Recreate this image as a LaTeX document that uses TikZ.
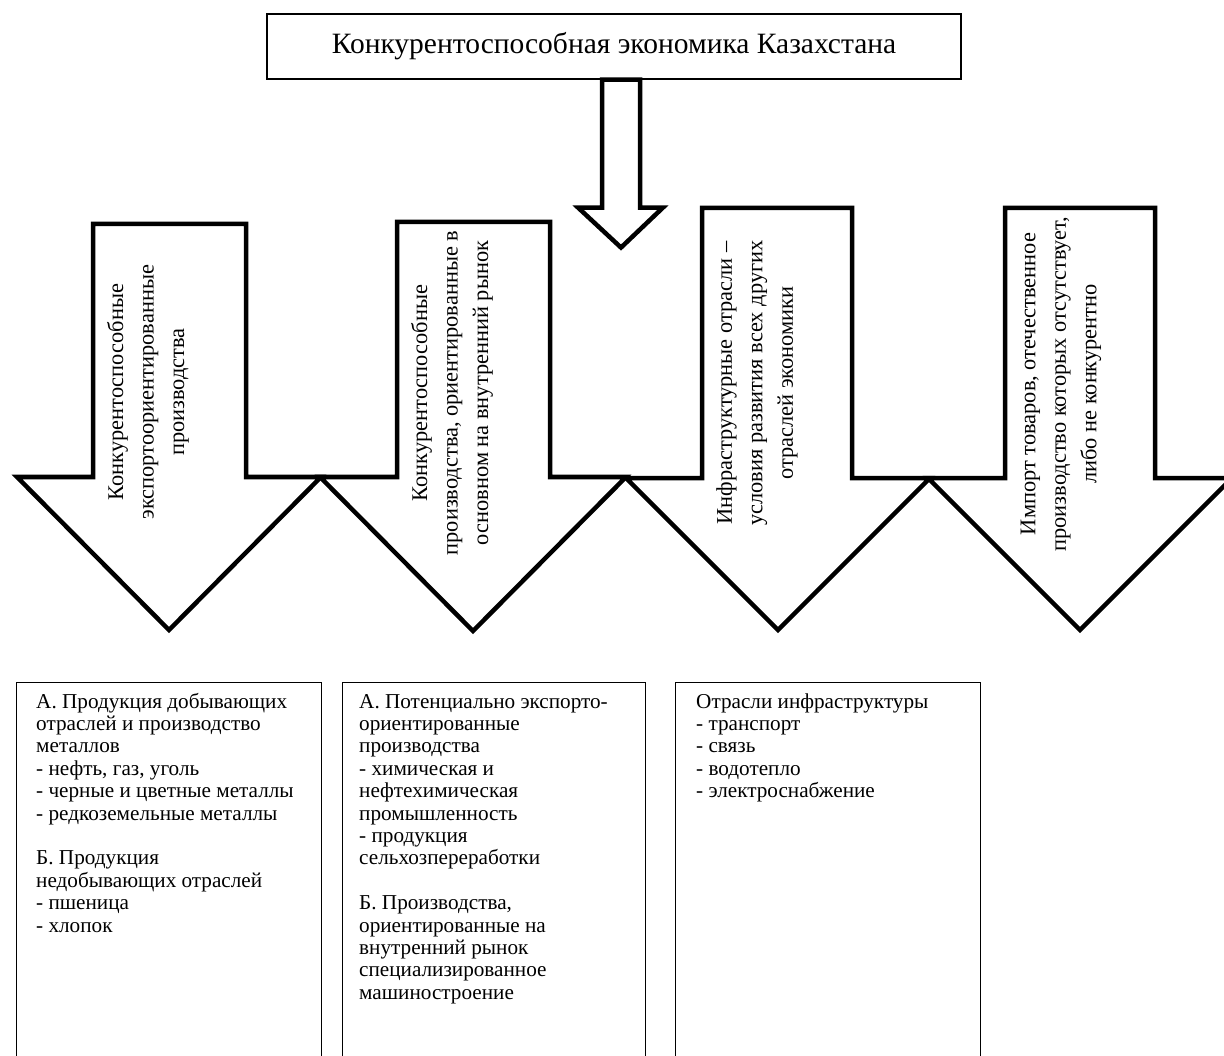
\documentclass[tikz,border=0pt]{standalone}
\usepackage{fontspec}
\setmainfont{Liberation Serif}
\begin{document}
\begin{tikzpicture}[x=1pt,y=-1pt,
  bigarrow/.style={draw=black, line width=4.5pt, fill=white, line join=miter},
  thinbox/.style={draw=black, line width=1.1pt, fill=white},
  arrowtext/.style={rotate=90, align=center, inner sep=0pt, font=\fontsize{22.4}{30.5}\selectfont},
  listtext/.style={anchor=base west, align=left, inner sep=0pt, font=\fontsize{21.2}{22.4}\selectfont},
]
\clip (0,0) rectangle (1224,1056);
\fill[white] (0,0) rectangle (1224,1056);

% top box
\node[thinbox, minimum width=694pt, minimum height=65pt, inner sep=0pt,
      font=\fontsize{29.5}{34}\selectfont] (top) at (614,46.5)
      {Конкурентоспособная экономика Казахстана};

% small arrow from the top box
\draw[bigarrow] ([xshift=-12pt]top.south) -- ++(0,128) -- ++(-24,0)
  -- ++(43,40) -- ++(42,-40) -- ++(-23,0) -- ++(0,-128) -- cycle;

% four big arrows
\draw[bigarrow] (93,224) -- (93,477) -- (17,477) -- (169,630) -- (321,477)
  -- (246,477) -- (246,224) -- cycle;
\draw[bigarrow] (397,222) -- (397,477) -- (320,477) -- (473,631) -- (626,477)
  -- (550,477) -- (550,222) -- cycle;
\draw[bigarrow] (702,208) -- (702,478) -- (626,478) -- (778,630) -- (930,478)
  -- (852,478) -- (852,208) -- cycle;
\draw[bigarrow] (1005,208) -- (1005,478) -- (928,478) -- (1080,630) -- (1232,478)
  -- (1155,478) -- (1155,208) -- cycle;

\node[arrowtext] (a1) at (148,392)
  {Конкурентоспособные\\экспортоориентированные\\производства};
\node[arrowtext] (a2) at (452,393)
  {Конкурентоспособные\\производства, ориентированные в\\основном на внутренний рынок};
\node[arrowtext] (a3) at (757,383)
  {Инфраструктурные отрасли –\\условия развития всех других\\отраслей экономики};
\node[arrowtext] (a4) at (1061,384)
  {Импорт товаров, отечественное\\производство которых отсутствует,\\либо не конкурентно};

% bottom boxes
\node[thinbox, anchor=north west, minimum width=305pt, minimum height=400pt] (b1) at (16,682) {};
\node[thinbox, anchor=north west, minimum width=303pt, minimum height=400pt] (b2) at (342,682) {};
\node[thinbox, anchor=north west, minimum width=305pt, minimum height=400pt] (b3) at (675,682) {};

% texts (anchored at the baseline of their last line)
\node[listtext] (t1) at (36,932)
  {А. Продукция добывающих\\отраслей и производство\\металлов\\- нефть, газ, уголь\\- черные и цветные металлы\\- редкоземельные металлы\\[22.4pt]Б. Продукция\\недобывающих отраслей\\- пшеница\\- хлопок};
\node[listtext] (t2) at (359,999.2)
  {А. Потенциально экспорто-\\ориентированные\\производства\\- химическая и\\нефтехимическая\\промышленность\\- продукция\\сельхозпереработки\\[22.4pt]Б. Производства,\\ориентированные на\\внутренний рынок\\специализированное\\машиностроение};
\node[listtext] (t3) at (696,797.6)
  {Отрасли инфраструктуры\\- транспорт\\- связь\\- водотепло\\- электроснабжение};
\end{tikzpicture}
\end{document}
